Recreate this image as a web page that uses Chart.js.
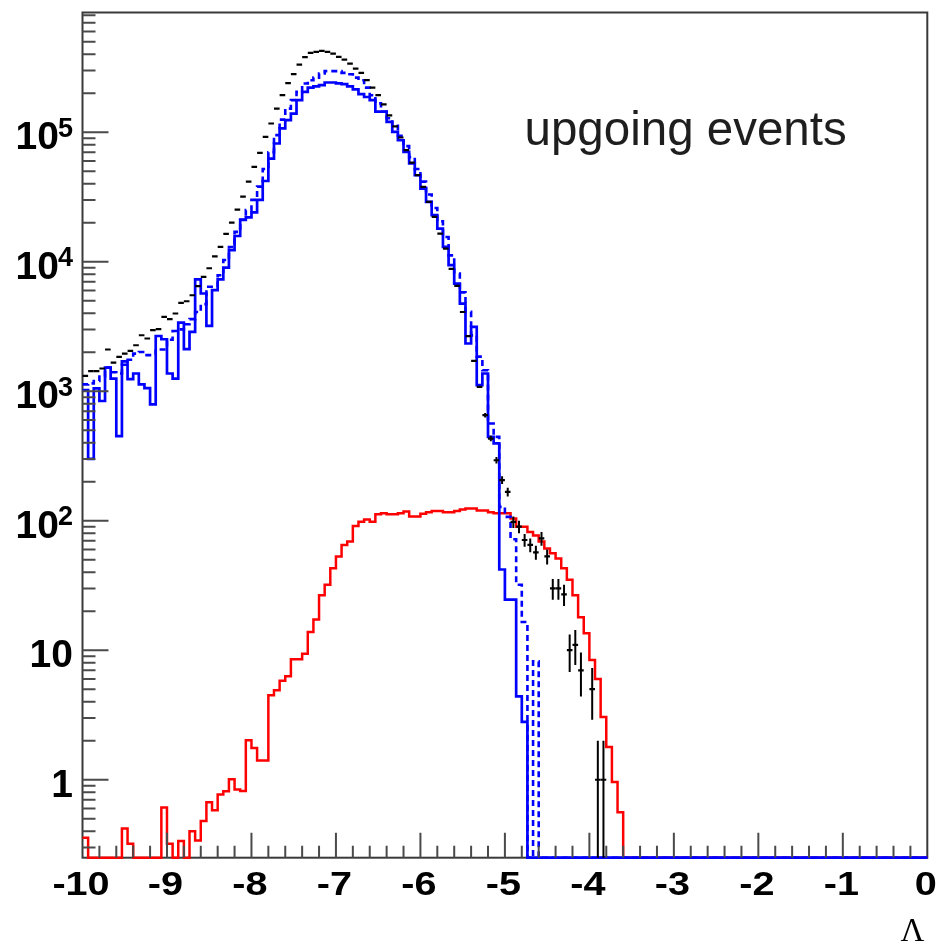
<!DOCTYPE html>
<html>
<head>
<meta charset="utf-8">
<script src="https://cdn.jsdelivr.net/npm/chart.js@4.4.0/dist/chart.umd.min.js"></script>
<style>
html, body { margin: 0; padding: 0; background: #ffffff; }
canvas { display: block; }
</style>
</head>
<body>
<canvas id="c" width="939" height="943"></canvas>
<script>
// ---------- axis definition ----------
const X_MIN = -10, X_MAX = 0, N_BINS = 150, X_MINOR_STEP = 0.2;
const Y_MIN = 0.25, Y_MAX = 8.4e5;

const xTickValues = [-10, -9, -8, -7, -6, -5, -4, -3, -2, -1, 0];
const xTickLabels = ['-10', '-9', '-8', '-7', '-6', '-5', '-4', '-3', '-2', '-1', '0'];
const yTickValues = [1, 10, 100, 1000, 10000, 100000];
const yTickBases  = ['1', '10', '10', '10', '10', '10'];
const yTickExps   = ['', '', '2', '3', '4', '5'];
const xAxisTitle = '\u039B';
const plotLabel = 'upgoing events';

// ---------- histogram contents (150 bins from -10 to 0) ----------
// blue solid histogram
const blueSolid = [
  1020, 300, 1050, 840, 1520, 1250, 450, 1700, 1240, 1370,
  1130, 1055, 790, 2670, 2520, 1370, 1250, 3390, 2110, 2870,
  7300, 5680, 3190, 6030, 7300, 9000, 12270, 15800, 21000, 22000,
  24000, 30000, 42000, 62600, 81800, 107000, 124000, 139000, 177000, 205000,
  221000, 226000, 231000, 242000, 242000, 238000, 235000, 226000, 214000, 197000,
  187000, 177000, 144000, 144000, 120000, 100500, 86700, 70500, 57300, 46500,
  36700, 29000, 22900, 18000, 13000, 9400, 6780, 4750, 2335, 3140,
  1113, 1370, 444, 395, 42, 24.6, 24.6, 4.4, 2.8, 0,
  0, 0, 0, 0, 0, 0, 0, 0, 0, 0,
  0, 0, 0, 0, 0, 0, 0, 0, 0, 0,
  0, 0, 0, 0, 0, 0, 0, 0, 0, 0,
  0, 0, 0, 0, 0, 0, 0, 0, 0, 0,
  0, 0, 0, 0, 0, 0, 0, 0, 0, 0,
  0, 0, 0, 0, 0, 0, 0, 0, 0, 0,
  0, 0, 0, 0, 0, 0, 0, 0, 0, 0
];

// blue dashed histogram
const blueDashed = [
  1130, 1150, 1200, 1300, 1520, 1400, 1370, 1600, 1750, 1950,
  2010, 1900, 1900, 2100, 2100, 2500, 2920, 3000, 3290, 3600,
  4090, 4700, 6400, 6400, 7870, 10300, 13000, 17000, 21200, 25000,
  30000, 38000, 52000, 70000, 95000, 125000, 152000, 177000, 205000, 238000,
  252000, 264000, 284000, 296000, 296000, 296000, 287000, 280000, 264000, 252000,
  221000, 193000, 167000, 144000, 128000, 112000, 94000, 78000, 64000, 52000,
  41500, 33000, 26000, 20500, 15500, 11200, 8100, 5800, 4100, 2700,
  1850, 1450, 563, 444, 128, 107, 72, 32, 16.5, 0,
  8.2, 0, 0, 0, 0, 0, 0, 0, 0, 0,
  0, 0, 0, 0, 0, 0, 0, 0, 0, 0,
  0, 0, 0, 0, 0, 0, 0, 0, 0, 0,
  0, 0, 0, 0, 0, 0, 0, 0, 0, 0,
  0, 0, 0, 0, 0, 0, 0, 0, 0, 0,
  0, 0, 0, 0, 0, 0, 0, 0, 0, 0,
  0, 0, 0, 0, 0, 0, 0, 0, 0, 0
];

// red histogram
const redSignal = [
  0.357, 0, 0, 0, 0, 0, 0, 0.42, 0.32, 0,
  0, 0, 0, 0, 0.61, 0.32, 0, 0.337, 0, 0.40,
  0.34, 0.48, 0.67, 0.58, 0.77, 0.815, 1.01, 0.84, 0.82, 2.02,
  1.76, 1.41, 1.41, 4.5, 4.9, 5.8, 6.3, 8.5, 8.5, 9.4,
  13.8, 17.3, 26.6, 32, 43, 53, 65, 69, 91, 98,
  102, 98, 112, 114, 112, 112, 114, 118, 108, 108,
  113, 116, 119, 119, 116, 116, 119, 122, 124, 124,
  120, 120, 116, 114, 114, 114, 104, 90, 90, 82,
  77, 69, 61, 56, 51, 43, 35, 26.6, 18, 13.5,
  8.4, 6.0, 3.05, 1.79, 0.96, 0.56, 0, 0, 0, 0,
  0, 0, 0, 0, 0, 0, 0, 0, 0, 0,
  0, 0, 0, 0, 0, 0, 0, 0, 0, 0,
  0, 0, 0, 0, 0, 0, 0, 0, 0, 0,
  0, 0, 0, 0, 0, 0, 0, 0, 0, 0,
  0, 0, 0, 0, 0, 0, 0, 0, 0, 0
];

// black data points
const blackData = [
  1313, 1427, 1427, 1497, 2100, 1665, 1841, 1954, 2048, 2265,
  2705, 2552, 2958, 3011, 3750, 3597, 3983, 4812, 4950, 5510,
  6470, 7640, 8900, 11000, 13000, 16400, 20000, 25200, 31800, 41500,
  54000, 69200, 92000, 116700, 152000, 193000, 239000, 281000, 332000, 380000,
  410000, 417000, 425000, 417000, 405000, 382000, 364000, 339000, 310000, 287000,
  252000, 221000, 193000, 164000, 135000, 111000, 91000, 72600, 58300, 46600,
  37800, 29000, 22200, 16500, 12600, 8800, 6500, 4090, 2660, 1714,
  1080, 653, 431, 293, 206, 167, 98, 90, 71, 65,
  57, 73, 53, 30, 30, 27, 10, 11, 7, 0,
  5, 1, 1, 0, 0, 0, 0, 0, 0, 0,
  0, 0, 0, 0, 0, 0, 0, 0, 0, 0,
  0, 0, 0, 0, 0, 0, 0, 0, 0, 0,
  0, 0, 0, 0, 0, 0, 0, 0, 0, 0,
  0, 0, 0, 0, 0, 0, 0, 0, 0, 0,
  0, 0, 0, 0, 0, 0, 0, 0, 0, 0
];

// vertical error bars of the black points (bin index, low, high)
const errBins = [71, 72, 73, 74, 75, 76, 77, 78, 79, 80, 81, 82, 83, 84, 85, 86, 87, 88, 90, 91, 92];
const errLow  = [627, 410, 276, 192, 154, 88, 80, 63, 57, 50, 64, 46, 24.5, 24.5, 22, 6.8, 7.7, 4.4, 2.9, 0, 0];
const errHigh = [679, 452, 310, 220, 180, 108, 100, 79, 73, 64, 82, 60, 35.5, 35.5, 32, 13.2, 14.3, 9.6, 7.3, 2, 2];

// ---------- build datasets ----------
const binWidth = (X_MAX - X_MIN) / N_BINS;
const binEdge = i => X_MIN + i * binWidth;
const binCenter = i => X_MIN + (i + 0.5) * binWidth;
const onAxis = v => (v > 0 ? v : Y_MIN);   // empty bins drawn on the lower frame edge

function histPoints(values) {
  const pts = values.map((v, i) => ({ x: binEdge(i), y: onAxis(v) }));
  pts.push({ x: binEdge(values.length), y: pts[pts.length - 1].y });
  return pts;
}
const markerPoints = blackData.map((v, i) => ({ x: binCenter(i), y: v > 0 ? v : null }));
const errPoints = [];
errBins.forEach((b, k) => {
  const xc = binCenter(b);
  errPoints.push({ x: xc, y: onAxis(errLow[k]) }, { x: xc, y: errHigh[k] }, { x: xc, y: null });
});

// ---------- frame, ticks and texts ----------
const FRAME_COLOR = '#3a3a3a';
const TICK_COLOR = '#4a4a4a';
const frameAndAxes = {
  id: 'frameAndAxes',
  beforeDraw(chart) {
    const c = chart.ctx;
    c.save(); c.fillStyle = '#ffffff'; c.fillRect(0, 0, chart.width, chart.height); c.restore();
  },
  beforeDatasetsDraw(chart) {
    const { ctx, chartArea: a } = chart;
    ctx.save();
    ctx.strokeStyle = FRAME_COLOR; ctx.lineWidth = 2;
    ctx.strokeRect(a.left, a.top, a.right - a.left, a.bottom - a.top);
    ctx.restore();
  },
  afterDatasetsDraw(chart) {
    const { ctx, chartArea: a, scales } = chart;
    const xs = scales.x, ys = scales.y;
    ctx.save();
    ctx.strokeStyle = TICK_COLOR; ctx.lineWidth = 2;
    ctx.beginPath();
    const nMinor = Math.round((X_MAX - X_MIN) / X_MINOR_STEP);
    for (let k = 1; k < nMinor; k++) {
      const px = xs.getPixelForValue(X_MIN + k * X_MINOR_STEP);
      ctx.moveTo(px, a.bottom);
      ctx.lineTo(px, a.bottom - (k % 5 === 0 ? 25 : 12));
    }
    const e0 = Math.floor(Math.log10(Y_MIN)), e1 = Math.ceil(Math.log10(Y_MAX));
    for (let e = e0; e <= e1; e++) {
      for (let m = 1; m <= 9; m++) {
        const v = m * Math.pow(10, e);
        if (v <= Y_MIN || v >= Y_MAX) continue;
        const py = ys.getPixelForValue(v);
        ctx.moveTo(a.left, py);
        ctx.lineTo(a.left + (m === 1 ? 26 : 13), py);
      }
    }
    ctx.stroke();
    ctx.restore();
  },
  afterDraw(chart) {
    const { ctx, chartArea: a, scales } = chart;
    const xs = scales.x, ys = scales.y;
    ctx.save();
    ctx.fillStyle = '#000000';
    ctx.textBaseline = 'alphabetic';
    // x tick labels (slightly wide bold face, as in the original)
    ctx.font = 'bold 33px "Liberation Sans", Arial, Helvetica, sans-serif';
    ctx.textAlign = 'center';
    const X_STRETCH = 1.2;
    xTickValues.forEach((v, k) => {
      const px = xs.getPixelForValue(v) - 1.5;
      ctx.save();
      ctx.translate(px, a.bottom + 37.5);
      ctx.scale(X_STRETCH, 1);
      ctx.fillText(xTickLabels[k], 0, 0);
      ctx.restore();
    });
    // y tick labels
    yTickValues.forEach((v, k) => {
      const py = ys.getPixelForValue(v);
      let right = 73;
      ctx.textAlign = 'right';
      if (yTickExps[k]) {
        ctx.font = 'bold 27px "Liberation Sans", Arial, Helvetica, sans-serif';
        ctx.fillText(yTickExps[k], right, py + 4.5);
        right -= ctx.measureText(yTickExps[k]).width - 1;
      }
      ctx.font = 'bold 39px "Liberation Sans", Arial, Helvetica, sans-serif';
      ctx.fillText(yTickBases[k], right, py + 17);
    });
    // in-plot label
    ctx.fillStyle = '#1e1e1e';
    ctx.font = '47.5px "Liberation Sans", Arial, Helvetica, sans-serif';
    ctx.textAlign = 'left';
    ctx.fillText(plotLabel, 524.5, 145);
    // axis title
    ctx.fillStyle = '#000000';
    ctx.font = '33px "Liberation Serif", "Times New Roman", serif';
    ctx.textAlign = 'center';
    ctx.fillText(xAxisTitle, 912.5, 940.5);
    ctx.restore();
  }
};

new Chart(document.getElementById('c'), {
  type: 'line',
  data: {
    datasets: [
      { label: 'data errors', data: errPoints, borderColor: '#000000', borderWidth: 2,
        pointRadius: 0, spanGaps: false, fill: false, order: 0, clip: 3 },
      { label: 'data', data: markerPoints, showLine: false, pointStyle: 'line',
        pointRadius: 2.8, pointBorderWidth: 2.2, pointBorderColor: '#000000',
        pointBackgroundColor: '#000000', order: 1, clip: 3 },
      { label: 'blue solid', data: histPoints(blueSolid), stepped: true, borderColor: '#0000ff',
        borderWidth: 2.7, pointRadius: 0, fill: false, order: 3, clip: 6 },
      { label: 'blue dashed', data: histPoints(blueDashed), stepped: true, borderColor: '#0000ff',
        borderWidth: 2.6, borderDash: [6, 4], pointRadius: 0, fill: false, order: 4, clip: 6 },
      { label: 'red', data: histPoints(redSignal), stepped: true, borderColor: '#ff0000',
        borderWidth: 2.5, pointRadius: 0, fill: false, order: 5, clip: 6 }
    ]
  },
  options: {
    responsive: false,
    animation: false,
    devicePixelRatio: 1,
    events: [],
    layout: { padding: { left: 82.5, right: 11.7, top: 12.5, bottom: 85.3 } },
    plugins: { legend: { display: false }, tooltip: { enabled: false }, title: { display: false } },
    elements: { line: { borderJoinStyle: 'miter', borderCapStyle: 'butt', tension: 0 } },
    scales: {
      x: { type: 'linear', min: X_MIN, max: X_MAX, display: false },
      y: { type: 'logarithmic', min: Y_MIN, max: Y_MAX, display: false }
    }
  },
  plugins: [frameAndAxes]
});
</script>
</body>
</html>
